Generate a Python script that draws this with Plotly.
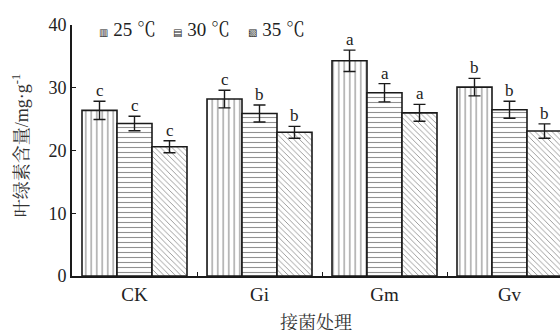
import plotly.graph_objects as go

categories = ["CK", "Gi", "Gm", "Gv"]
series_names = ["25 ℃", "30 ℃", "35 ℃"]
legend_marks = ["▥", "▤", "▧"]
values_25 = [26.4, 28.2, 34.3, 30.1]
values_30 = [24.3, 25.9, 29.2, 26.5]
values_35 = [20.6, 22.9, 26.0, 23.1]
err_25 = [1.45, 1.4, 1.7, 1.4]
err_30 = [1.15, 1.35, 1.45, 1.35]
err_35 = [0.95, 0.95, 1.35, 1.15]
letters_25 = ["c", "c", "a", "b"]
letters_30 = ["c", "b", "a", "b"]
letters_35 = ["c", "b", "a", "b"]
y_ticks = [0, 10, 20, 30, 40]

values = [values_25, values_30, values_35]
errs = [err_25, err_30, err_35]
letters = [letters_25, letters_30, letters_35]
shapes = ["|", "-", "\\"]
sizes = [5.5, 5, 4]

SERIF = "Liberation Serif, Noto Serif CJK SC, Noto Sans CJK SC, serif"

fig = go.Figure()
for j in range(3):
    fig.add_trace(go.Bar(
        x=categories, y=values[j], name=series_names[j],
        marker=dict(color="white", line=dict(color="#1a1a1a", width=1.6),
                    pattern=dict(shape=shapes[j], size=sizes[j], solidity=0.22,
                                 fgcolor="#222", bgcolor="white", fillmode="overlay")),
        error_y=dict(type="data", array=errs[j], color="#1a1a1a", thickness=1.4, width=6),
    ))

bargap = 0.16
bw = (1 - bargap) / 3
annotations = []
for j in range(3):
    for i in range(len(categories)):
        annotations.append(dict(
            x=i + (j - 1) * bw, y=values[j][i] + errs[j][i], xref="x", yref="y",
            text=letters[j][i], showarrow=False, yanchor="bottom", yshift=-1,
            font=dict(family=SERIF, size=17, color="#222")))

# legend drawn as text entries across the top of the plot
legend_x = [0.051, 0.203, 0.357]
for j in range(3):
    annotations.append(dict(
        x=legend_x[j], y=0.984, xref="paper", yref="paper", xanchor="left", yanchor="middle",
        text=f"<span style='font-size:10px;font-family:DejaVu Sans'>{legend_marks[j]}</span> {series_names[j]}",
        showarrow=False, font=dict(family=SERIF, size=19, color="#222")))

annotations.append(dict(x=0.5, y=-0.178, xref="paper", yref="paper", text="接菌处理",
                        showarrow=False, xanchor="center", yanchor="middle",
                        font=dict(family="Noto Serif CJK SC, Noto Sans CJK SC", size=18, color="#333")))
annotations.append(dict(x=-0.105, y=0.52, xref="paper", yref="paper",
                        text="叶绿素含量/mg·g<sup>-1</sup>", textangle=-90, showarrow=False,
                        xanchor="center", yanchor="middle",
                        font=dict(family="Liberation Serif, Noto Serif CJK SC, Noto Sans CJK SC", size=18, color="#333")))

fig.update_layout(
    width=560, height=330,
    margin=dict(l=72, r=0, t=25, b=54),
    paper_bgcolor="white", plot_bgcolor="white",
    barmode="group", bargap=bargap, bargroupgap=0,
    showlegend=False,
    annotations=annotations,
    xaxis=dict(type="category", range=[-0.5, 3.404], showline=True, linecolor="#1a1a1a", linewidth=1.6,
               ticks="inside", tickson="boundaries", ticklen=4, tickcolor="#1a1a1a",
               tickfont=dict(family=SERIF, size=19, color="#222"), showgrid=False, zeroline=False),
    yaxis=dict(range=[0, 40], tickvals=y_ticks, showline=True, linecolor="#1a1a1a", linewidth=1.6,
               ticks="inside", ticklen=4, tickcolor="#1a1a1a",
               tickfont=dict(family=SERIF, size=18, color="#222"), showgrid=False, zeroline=False),
    font=dict(family=SERIF, color="#222"),
)

fig.write_html("out.html", config={"displayModeBar": False},
               post_script="document.body.style.margin='0';document.body.style.padding='0';")
